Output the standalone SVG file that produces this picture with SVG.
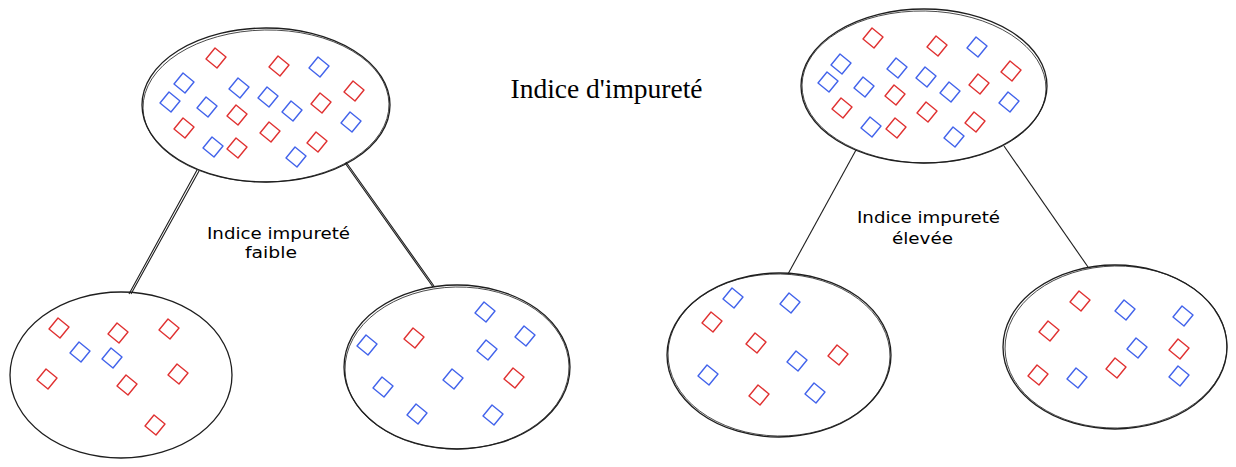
<svg xmlns="http://www.w3.org/2000/svg" xmlns:xlink="http://www.w3.org/1999/xlink" width="1236" height="467" viewBox="0 0 1236 467">
<style>
.bg{fill:#ffffff}
.ell{fill:none;stroke:#1e1e1e;stroke-width:1.3}
.ell2{fill:none;stroke:#1e1e1e;stroke-width:0.8}
.con{fill:none;stroke:#1e1e1e;stroke-width:1.1}
.r{fill:none;stroke:#e03131;stroke-width:1.4;stroke-linejoin:round}
.b{fill:none;stroke:#4263eb;stroke-width:1.4;stroke-linejoin:round}
.title{font-family:"Liberation Serif",serif;font-size:27.5px;fill:#000}
.hand{font-family:"DejaVu Sans",sans-serif;font-size:16px;fill:#000}
</style>
<defs>
<path id="d" d="M-1,-10 L10,-1 L1,10 L-10,1 Z"/>
</defs>
<rect class="bg" x="0" y="0" width="1236" height="467"/>

<g id="connectors">
<path class="con" d="M197,170 L129,294 M199,171 L131,294"/>
<path class="con" d="M345,163 L433,287 M346,162 L434,286"/>
<path class="con" d="M856,150 L788,274"/>
<path class="con" d="M1004,146 L1088,267"/>
</g>

<g id="node-root-low">
<ellipse class="ell" cx="266" cy="105" rx="124" ry="77"/>
<ellipse class="ell2" cx="266" cy="106" rx="123" ry="76" transform="rotate(-1 266 106)"/>
<use href="#d" x="216" y="58" class="r"/>
<use href="#d" x="279" y="66" class="r"/>
<use href="#d" x="354" y="91" class="r"/>
<use href="#d" x="321" y="103" class="r"/>
<use href="#d" x="237" y="115" class="r"/>
<use href="#d" x="184" y="128" class="r"/>
<use href="#d" x="270" y="132" class="r"/>
<use href="#d" x="317" y="142" class="r"/>
<use href="#d" x="237" y="148" class="r"/>
<use href="#d" x="319" y="67" class="b"/>
<use href="#d" x="184" y="83" class="b"/>
<use href="#d" x="239" y="88" class="b"/>
<use href="#d" x="170" y="102" class="b"/>
<use href="#d" x="207" y="107" class="b"/>
<use href="#d" x="268" y="97" class="b"/>
<use href="#d" x="292" y="111" class="b"/>
<use href="#d" x="351" y="122" class="b"/>
<use href="#d" x="213" y="147" class="b"/>
<use href="#d" x="296" y="157" class="b"/>
</g>

<g id="node-root-high">
<ellipse class="ell" cx="924" cy="86" rx="123" ry="77"/>
<ellipse class="ell2" cx="924" cy="87" rx="122" ry="76" transform="rotate(1 924 87)"/>
<use href="#d" x="873" y="38" class="r"/>
<use href="#d" x="937" y="46" class="r"/>
<use href="#d" x="1011" y="71" class="r"/>
<use href="#d" x="979" y="84" class="r"/>
<use href="#d" x="895" y="95" class="r"/>
<use href="#d" x="842" y="108" class="r"/>
<use href="#d" x="927" y="112" class="r"/>
<use href="#d" x="975" y="122" class="r"/>
<use href="#d" x="896" y="128" class="r"/>
<use href="#d" x="977" y="47" class="b"/>
<use href="#d" x="841" y="64" class="b"/>
<use href="#d" x="897" y="68" class="b"/>
<use href="#d" x="828" y="82" class="b"/>
<use href="#d" x="864" y="87" class="b"/>
<use href="#d" x="926" y="77" class="b"/>
<use href="#d" x="950" y="92" class="b"/>
<use href="#d" x="1009" y="102" class="b"/>
<use href="#d" x="871" y="127" class="b"/>
<use href="#d" x="954" y="137" class="b"/>
</g>

<g id="node-low-left">
<ellipse class="ell" cx="121" cy="375" rx="111" ry="83"/>
<use href="#d" x="59" y="328" class="r"/>
<use href="#d" x="118" y="333" class="r"/>
<use href="#d" x="169" y="329" class="r"/>
<use href="#d" x="47" y="379" class="r"/>
<use href="#d" x="127" y="385" class="r"/>
<use href="#d" x="178" y="374" class="r"/>
<use href="#d" x="155" y="425" class="r"/>
<use href="#d" x="80" y="352" class="b"/>
<use href="#d" x="112" y="358" class="b"/>
</g>

<g id="node-low-right">
<ellipse class="ell" cx="457" cy="367" rx="113" ry="82"/>
<ellipse class="ell2" cx="457" cy="368" rx="112" ry="81" transform="rotate(-1 457 368)"/>
<use href="#d" x="485" y="312" class="b"/>
<use href="#d" x="525" y="336" class="b"/>
<use href="#d" x="367" y="345" class="b"/>
<use href="#d" x="487" y="350" class="b"/>
<use href="#d" x="453" y="379" class="b"/>
<use href="#d" x="383" y="387" class="b"/>
<use href="#d" x="417" y="414" class="b"/>
<use href="#d" x="493" y="415" class="b"/>
<use href="#d" x="414" y="338" class="r"/>
<use href="#d" x="514" y="378" class="r"/>
</g>

<g id="node-high-left">
<ellipse class="ell" cx="779" cy="355" rx="112" ry="82"/>
<ellipse class="ell2" cx="779" cy="355" rx="111" ry="81" transform="rotate(1 779 355)"/>
<use href="#d" x="733" y="298" class="b"/>
<use href="#d" x="790" y="303" class="b"/>
<use href="#d" x="797" y="361" class="b"/>
<use href="#d" x="708" y="375" class="b"/>
<use href="#d" x="815" y="393" class="b"/>
<use href="#d" x="712" y="322" class="r"/>
<use href="#d" x="756" y="343" class="r"/>
<use href="#d" x="838" y="355" class="r"/>
<use href="#d" x="759" y="395" class="r"/>
</g>

<g id="node-high-right">
<ellipse class="ell" cx="1115" cy="347" rx="112" ry="82"/>
<ellipse class="ell2" cx="1116" cy="347" rx="111" ry="81" transform="rotate(-1 1116 347)"/>
<use href="#d" x="1080" y="301" class="r"/>
<use href="#d" x="1049" y="331" class="r"/>
<use href="#d" x="1179" y="349" class="r"/>
<use href="#d" x="1116" y="368" class="r"/>
<use href="#d" x="1038" y="375" class="r"/>
<use href="#d" x="1125" y="310" class="b"/>
<use href="#d" x="1183" y="316" class="b"/>
<use href="#d" x="1137" y="348" class="b"/>
<use href="#d" x="1077" y="378" class="b"/>
<use href="#d" x="1179" y="376" class="b"/>
</g>

<g id="labels">
<text class="title" x="606.5" y="98" text-anchor="middle">Indice d'impureté</text>
<text class="hand" x="207" y="239" textLength="143" lengthAdjust="spacingAndGlyphs">Indice impureté</text>
<text class="hand" x="245" y="258" textLength="52" lengthAdjust="spacingAndGlyphs">faible</text>
<text class="hand" x="857" y="223" textLength="143" lengthAdjust="spacingAndGlyphs">Indice impureté</text>
<text class="hand" x="892" y="244" textLength="61" lengthAdjust="spacingAndGlyphs">élevée</text>
</g>
</svg>
